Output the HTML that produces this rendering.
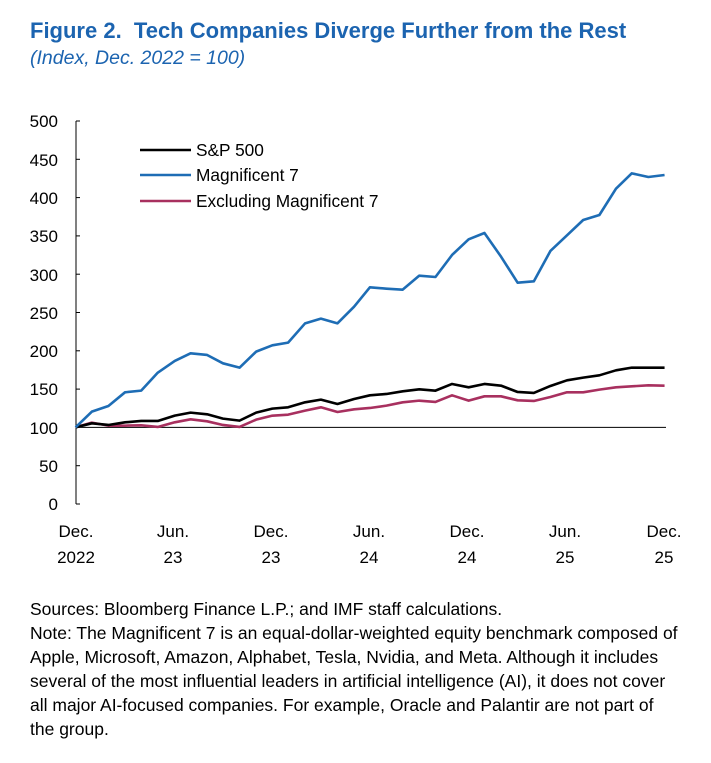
<!DOCTYPE html>
<html><head><meta charset="utf-8"><style>
html,body{margin:0;padding:0;background:#fff;}
body{width:711px;height:763px;position:relative;overflow:hidden;font-family:"Liberation Sans",sans-serif;}
.t{position:absolute;left:30px;top:18px;font-size:22px;font-weight:bold;color:#1c64b0;}
.s{position:absolute;left:30px;top:47px;font-size:19.5px;font-style:italic;color:#1c64b0;}
.n{position:absolute;left:30px;top:597px;font-size:17.5px;line-height:24px;color:#000;width:652px;}
</style></head><body>
<div class="t">Figure 2.&nbsp; Tech Companies Diverge Further from the Rest</div>
<div class="s">(Index, Dec. 2022 = 100)</div>
<svg width="711" height="763" style="position:absolute;left:0;top:0" font-family="Liberation Sans, sans-serif" font-size="17">
<g text-anchor="end">
<text x="58" y="127">500</text><text x="58" y="166">450</text><text x="58" y="204">400</text><text x="58" y="242">350</text><text x="58" y="281">300</text><text x="58" y="319">250</text><text x="58" y="357">200</text><text x="58" y="395">150</text><text x="58" y="434">100</text><text x="58" y="472">50</text><text x="58" y="510">0</text>
</g>
<line x1="76" y1="121" x2="76" y2="504" stroke="#000" stroke-width="1"/>
<g stroke="#000" stroke-width="1">
<line x1="76" y1="121" x2="80" y2="121"/><line x1="76" y1="159.3" x2="80" y2="159.3"/><line x1="76" y1="197.6" x2="80" y2="197.6"/><line x1="76" y1="235.9" x2="80" y2="235.9"/><line x1="76" y1="274.2" x2="80" y2="274.2"/><line x1="76" y1="312.5" x2="80" y2="312.5"/><line x1="76" y1="350.8" x2="80" y2="350.8"/><line x1="76" y1="389.1" x2="80" y2="389.1"/><line x1="76" y1="465.7" x2="80" y2="465.7"/><line x1="76" y1="504" x2="80" y2="504"/>
</g>
<line x1="76" y1="427.4" x2="666" y2="427.4" stroke="#000" stroke-width="1"/>
<g text-anchor="middle">
<text x="76" y="537">Dec.</text><text x="76" y="563">2022</text>
<text x="173" y="537">Jun.</text><text x="173" y="563">23</text>
<text x="271" y="537">Dec.</text><text x="271" y="563">23</text>
<text x="369" y="537">Jun.</text><text x="369" y="563">24</text>
<text x="467" y="537">Dec.</text><text x="467" y="563">24</text>
<text x="565" y="537">Jun.</text><text x="565" y="563">25</text>
<text x="664" y="537">Dec.</text><text x="664" y="563">25</text>
</g>
<g transform="translate(61,160) scale(0.395,0.3333)" fill="none" stroke-linejoin="round">
<polyline vector-effect="non-scaling-stroke" stroke="#a8305f" stroke-width="2.6" points="37,802 78,788 120,797 162,797 203,796 245,801 288,787 328,778 370,784 410,795 452,801 494,779 535,767 575,764 618,752 658,742 700,756 742,748 782,744 824,737 865,727 907,722 948,726 990,706 1032,722 1072,709 1114,709 1156,721 1197,723 1239,711 1281,697 1322,697 1363,689 1405,682 1445,679 1487,676 1528,677"/>
<polyline vector-effect="non-scaling-stroke" stroke="#000" stroke-width="2.6" points="37,802 78,790 120,795 162,787 203,783 245,783 288,767 328,758 370,763 410,776 452,782 494,758 535,746 575,742 618,727 658,719 700,732 742,717 782,706 824,702 865,694 907,688 948,692 990,672 1032,682 1072,672 1114,677 1156,696 1197,699 1239,678 1281,661 1322,653 1363,646 1405,631 1445,623 1487,623 1528,623"/>
<polyline vector-effect="non-scaling-stroke" stroke="#1e6db5" stroke-width="2.6" points="37,802 78,755 120,738 162,697 203,692 245,638 288,603 328,580 370,585 410,610 452,623 494,575 535,556 575,548 618,490 658,476 700,490 742,440 782,382 824,386 865,389 907,347 948,351 990,285 1032,238 1072,219 1114,290 1156,368 1197,364 1239,273 1281,226 1322,180 1363,165 1405,86 1445,40 1487,51 1528,45"/>
</g>
<line x1="140" y1="150" x2="191" y2="150" stroke="#000" stroke-width="2.6"/>
<line x1="140" y1="175" x2="191" y2="175" stroke="#1e6db5" stroke-width="2.6"/>
<line x1="140" y1="201" x2="191" y2="201" stroke="#a8305f" stroke-width="2.6"/>
<g font-size="17.3">
<text x="196" y="156">S&amp;P 500</text>
<text x="196" y="181">Magnificent 7</text>
<text x="196" y="207">Excluding Magnificent 7</text>
</g>
</svg>
<div class="n">Sources: Bloomberg Finance L.P.; and IMF staff calculations.<br>Note: The Magnificent 7 is an equal-dollar-weighted equity benchmark composed of Apple, Microsoft, Amazon, Alphabet, Tesla, Nvidia, and Meta. Although it includes several of the most influential leaders in artificial intelligence (AI), it does not cover all major AI-focused companies. For example, Oracle and Palantir are not part of the group.</div>
</body></html>
